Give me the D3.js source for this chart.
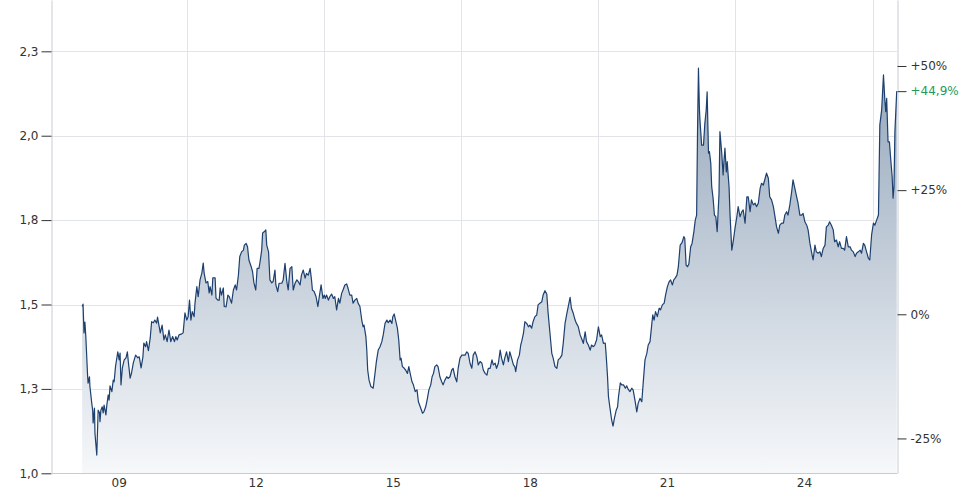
<!DOCTYPE html>
<html><head><meta charset="utf-8">
<script src="https://cdn.jsdelivr.net/npm/d3@7"></script>
<style>
html,body{margin:0;padding:0;background:#fff;}
svg{display:block;font-family:"DejaVu Sans",Verdana,sans-serif;}
</style></head>
<body><svg id="chart" width="980" height="500"></svg>
<script>
// years after 2000 (decimal)
const yearOffsets = [
8.20,8.22,8.24,8.26,8.28,8.32,8.33,8.36,8.37,8.41,8.43,8.44,8.47,8.48,8.52,8.55,8.58,8.59,8.61,8.64,8.66,8.68,8.72,8.74,8.77,8.79,8.81,8.85,8.88,8.90,8.93,8.98,
9.01,9.03,9.05,9.08,9.12,9.16,9.19,9.21,9.25,9.28,9.32,9.37,9.42,9.45,9.49,9.53,9.55,9.59,9.61,9.65,9.69,9.72,9.76,9.79,9.83,9.85,9.88,9.91,9.95,9.99,
10.02,10.06,10.10,10.14,10.18,10.22,10.25,10.28,10.32,10.38,10.41,10.45,
10.49,10.52,10.55,10.58,10.61,10.65,10.67,10.71,10.74,10.78,10.82,10.85,10.87,10.91,10.95,10.98,11.00,11.04,11.06,11.11,11.13,11.17,11.20,11.22,11.25,11.29,11.31,11.35,11.39,11.42,11.47,11.51,11.55,11.58,11.62,11.65,11.69,11.73,11.75,11.79,11.82,11.85,11.90,11.93,11.96,
12.00,12.03,12.07,12.09,12.13,12.15,12.19,12.22,12.24,12.28,12.31,12.35,12.38,12.42,12.44,12.48,12.51,12.57,12.60,12.64,12.68,12.71,12.75,12.79,12.82,12.86,12.90,12.93,12.97,
13.00,13.04,13.08,13.11,13.15,13.19,13.22,13.24,13.28,13.32,13.36,13.39,13.43,13.47,13.50,
13.52,13.55,13.59,13.62,13.66,13.70,13.73,13.77,13.81,13.84,13.88,13.91,13.95,13.99,14.02,14.06,14.10,14.13,14.17,14.21,14.24,14.28,14.32,14.35,14.37,14.41,14.43,14.45,14.48,14.52,14.57,14.61,14.64,14.68,14.72,14.76,14.79,14.83,14.87,14.90,14.94,14.98,
15.00,15.03,15.06,15.10,15.13,15.16,15.18,15.21,15.25,15.28,15.32,15.35,15.38,15.42,15.45,15.49,15.53,15.56,15.60,15.65,15.68,15.72,15.75,15.79,15.83,15.86,15.89,15.92,15.96,15.99,
16.03,16.07,16.10,16.14,16.18,16.21,16.25,16.29,16.32,16.36,16.40,16.43,16.47,
16.51,16.58,16.62,16.65,16.69,16.73,16.76,16.80,16.84,16.87,16.91,16.95,16.98,17.02,17.06,17.09,17.13,17.17,17.20,17.24,17.27,17.31,17.35,17.38,17.42,17.45,17.49,17.53,17.56,17.60,17.64,17.67,17.69,17.73,17.77,17.80,17.82,17.86,17.89,17.93,17.97,
18.00,18.04,18.07,18.11,18.15,18.18,18.22,18.26,18.29,18.33,18.37,18.40,18.44,18.48,18.51,18.55,18.59,18.62,18.66,18.70,18.73,18.77,18.81,18.84,18.88,18.91,18.95,18.99,
19.02,19.06,19.10,19.13,19.17,19.21,19.24,19.28,19.32,19.35,19.39,19.42,19.46,19.50,19.54,19.57,19.61,19.65,
19.67,19.70,19.72,19.75,19.79,19.82,19.85,19.89,19.92,19.94,19.98,20.01,20.05,20.09,20.12,20.15,20.19,20.23,20.26,20.30,20.34,20.37,20.41,20.45,20.48,20.52,20.56,20.59,20.63,20.67,20.69,20.72,20.75,20.79,20.83,20.86,20.90,20.94,20.97,
21.01,21.05,21.08,21.12,21.15,21.18,21.22,21.25,21.29,21.33,21.37,21.39,21.42,21.45,21.48,21.52,21.55,21.59,21.62,21.65,21.67,21.69,21.71,21.72,21.76,21.80,21.83,21.86,21.88,21.91,21.93,21.96,21.98,
22.01,22.04,22.07,22.10,22.14,22.16,22.20,22.23,22.25,22.27,22.30,22.32,22.34,22.36,22.38,22.42,22.45,22.49,22.53,22.56,22.60,22.64,22.67,22.71,
22.75,22.78,22.82,22.85,22.89,22.93,22.96,23.00,23.04,23.07,23.11,23.15,23.18,23.22,23.25,23.29,23.33,23.36,23.40,23.44,23.47,23.51,23.55,23.58,23.62,23.65,23.69,23.73,23.76,23.80,23.84,23.87,23.91,23.95,23.98,
24.02,24.06,24.09,24.13,24.17,24.20,24.24,24.27,24.31,24.35,24.38,24.42,24.46,24.49,24.53,24.56,24.60,24.64,24.67,24.71,24.75,24.78,24.82,24.86,24.89,24.93,24.97,
25.01,25.04,25.08,25.12,25.15,25.19,25.23,25.26,25.30,25.33,25.37,25.41,25.44,25.48,25.52,25.55,25.59,25.63,25.66,25.70,25.74,25.77,25.79,25.81,25.84,25.87,25.90,25.93,25.95,25.97,25.99,26.03
];
const prices = [
1.494,1.501,1.416,1.448,1.405,1.286,1.267,1.286,1.257,1.208,1.187,1.149,1.193,1.119,1.054,1.187,1.179,1.153,1.187,1.197,1.179,1.202,1.173,1.202,1.232,1.217,1.259,1.242,1.276,1.271,1.316,1.360,
1.336,1.356,1.262,1.312,1.336,1.342,1.360,1.331,1.282,1.297,1.327,1.350,1.342,1.345,1.312,1.345,1.386,1.375,1.390,1.363,1.401,1.449,1.446,1.454,1.445,1.463,1.439,1.416,1.439,1.395,
1.410,1.390,1.424,1.390,1.405,1.390,1.405,1.395,1.410,1.413,1.416,1.475,
1.454,1.464,1.513,1.454,1.479,1.464,1.504,1.553,1.523,1.573,1.593,1.623,1.593,1.564,1.568,1.534,1.553,1.528,1.579,1.579,1.519,1.513,1.513,1.549,1.528,1.549,1.494,1.493,1.528,1.523,1.504,1.543,1.558,1.543,1.587,1.642,1.656,1.661,1.676,1.681,1.671,1.632,1.612,1.597,1.564,
1.543,1.607,1.607,1.623,1.661,1.712,1.716,1.721,1.676,1.656,1.573,1.564,1.568,1.602,1.558,1.538,1.563,1.563,1.573,1.622,1.568,1.543,1.607,1.612,1.543,1.563,1.573,1.568,1.558,
1.587,1.602,1.578,1.592,1.587,1.607,1.573,1.543,1.538,1.523,1.494,1.523,1.558,1.518,1.528,
1.518,1.528,1.513,1.523,1.531,1.518,1.523,1.484,1.518,1.504,1.533,1.543,1.558,1.561,1.548,1.528,1.528,1.504,1.513,1.518,1.504,1.494,1.454,1.434,1.439,1.405,1.365,1.306,1.276,1.257,1.252,1.296,1.331,1.365,1.375,1.390,1.410,1.444,1.454,1.446,1.454,1.444,
1.464,1.472,1.454,1.430,1.395,1.336,1.341,1.316,1.311,1.306,1.296,1.316,1.296,1.271,1.262,1.242,1.247,1.212,1.197,1.178,1.182,1.197,1.217,1.247,1.262,1.286,1.296,1.316,1.321,1.316,
1.286,1.271,1.262,1.276,1.286,1.281,1.286,1.306,1.311,1.286,1.271,1.311,1.341,
1.350,1.350,1.360,1.355,1.326,1.311,1.350,1.360,1.345,1.321,1.331,1.326,1.306,1.296,1.291,1.311,1.311,1.336,1.321,1.326,1.311,1.326,1.365,1.341,1.321,1.341,1.360,1.331,1.360,1.341,1.321,1.316,1.301,1.336,1.350,1.380,1.390,1.415,1.449,1.444,1.434,
1.439,1.430,1.449,1.464,1.469,1.499,1.504,1.508,1.528,1.541,1.531,1.474,1.415,1.355,1.341,1.316,1.311,1.336,1.341,1.350,1.385,1.444,1.474,1.494,1.521,1.489,1.474,1.454,
1.444,1.434,1.410,1.400,1.385,1.419,1.390,1.380,1.365,1.380,1.375,1.380,1.395,1.434,1.405,1.410,1.385,1.386,
1.350,1.286,1.227,1.197,1.158,1.140,1.163,1.187,1.197,1.227,1.268,1.262,1.262,1.252,1.259,1.249,1.242,1.252,1.247,1.217,1.182,1.207,1.222,1.212,1.267,1.336,1.355,1.380,1.390,1.444,1.469,1.454,1.479,1.464,1.489,1.484,1.499,1.504,1.528,
1.553,1.568,1.573,1.558,1.573,1.578,1.587,1.612,1.676,1.683,1.701,1.696,1.617,1.612,1.620,1.671,1.681,1.716,1.750,1.765,2.017,2.200,2.086,2.052,1.972,1.972,2.037,2.076,2.130,1.948,1.953,1.918,1.849,
1.815,1.765,1.760,1.716,1.829,2.012,1.948,1.884,1.928,1.963,1.893,1.923,1.884,1.849,1.770,1.661,1.686,1.726,1.760,1.790,1.760,1.775,1.780,1.741,
1.819,1.819,1.775,1.810,1.795,1.800,1.790,1.800,1.844,1.859,1.854,1.874,1.889,1.874,1.819,1.810,1.790,1.765,1.730,1.711,1.735,1.741,1.741,1.765,1.775,1.765,1.795,1.834,1.869,1.844,1.819,1.800,1.765,1.765,1.770,
1.745,1.735,1.721,1.681,1.652,1.632,1.676,1.656,1.652,1.656,1.642,1.666,1.676,1.730,1.735,1.745,1.735,1.721,1.686,1.691,1.671,1.686,1.666,1.666,1.661,1.701,1.671,
1.671,1.661,1.656,1.642,1.652,1.656,1.661,1.652,1.681,1.676,1.656,1.637,1.632,1.706,1.741,1.735,1.750,1.765,2.032,2.076,2.180,2.106,2.071,2.111,1.982,1.982,1.928,1.879,1.815,1.849,2.012,2.132
];
const leftTickValues = [1.0, 1.25, 1.5, 1.75, 2.0, 2.25];
const leftTickLabels = ["1,0", "1,3", "1,5", "1,8", "2,0", "2,3"];
const xTickValues = [9, 12, 15, 18, 21, 24];
const xTickLabels = ["09", "12", "15", "18", "21", "24"];
const xGridValues = [10.5, 13.5, 16.5, 19.5, 22.5, 25.5];
const baseValue = 1.471;
const pctTickValues = [-25, 0, 25, 50];
const pctTickLabels = ["-25%", "0%", "+25%", "+50%"];

const data = yearOffsets.map((t, i) => ({t, v: prices[i]}));

const svg = d3.select("#chart");
const L = 51, R = 897, T = 0, B = 473.3;
const x = d3.scaleLinear().domain([7.518, 26.036]).range([L, R]);
const y = d3.scaleLinear().domain([1.0, 2.402]).range([B, T]);
const yPct = d3.scaleLinear().domain([(1.0/baseValue-1)*100, (2.402/baseValue-1)*100]).range([B, T]);

const defs = svg.append("defs");
const grad = defs.append("linearGradient").attr("id","fillGrad")
  .attr("gradientUnits","userSpaceOnUse").attr("x1",0).attr("x2",0).attr("y1",60).attr("y2",B);
grad.append("stop").attr("offset","0").attr("stop-color","#94a6bb");
grad.append("stop").attr("offset","1").attr("stop-color","#f6f8fa");

const gridColor = "#e1e4e9";
// horizontal grid
svg.append("g").selectAll("line").data(leftTickValues).join("line")
  .attr("x1", L).attr("x2", R).attr("y1", d => Math.round(y(d)) + 0.5).attr("y2", d => Math.round(y(d)) + 0.5)
  .attr("stroke", gridColor).attr("stroke-width", 1);
// vertical grid
svg.append("g").selectAll("line").data(xGridValues).join("line")
  .attr("x1", d => Math.round(x(d)) + 0.5).attr("x2", d => Math.round(x(d)) + 0.5).attr("y1", T).attr("y2", B)
  .attr("stroke", gridColor).attr("stroke-width", 1);

// area
const area = d3.area().x(d => x(d.t)).y0(B).y1(d => y(d.v));
svg.append("path").datum(data).attr("d", area).attr("fill", "url(#fillGrad)");
const line = d3.line().x(d => x(d.t)).y(d => y(d.v));
svg.append("path").datum(data).attr("d", line).attr("fill", "none")
  .attr("stroke", "#1d406e").attr("stroke-width", 1.2).attr("stroke-linejoin", "round");

const textColor = "#333";
// left axis
const gL = svg.append("g").attr("transform", `translate(${L+0.5},0)`)
  .call(d3.axisLeft(y).tickValues(leftTickValues).tickFormat((d, i) => leftTickLabels[i]).tickSize(10).tickSizeOuter(0).tickPadding(3));
// bottom axis
const gB = svg.append("g").attr("transform", `translate(0,${Math.round(B)+0.5})`)
  .call(d3.axisBottom(x).tickValues(xTickValues).tickFormat((d, i) => xTickLabels[i]).tickSize(0).tickSizeOuter(0).tickPadding(4.5));
// right axis
const gR = svg.append("g").attr("transform", `translate(${R+0.5},0)`)
  .call(d3.axisRight(yPct).tickValues(pctTickValues).tickFormat((d, i) => pctTickLabels[i]).tickSize(9).tickSizeOuter(0).tickPadding(4));

[gL, gB, gR].forEach(g => {
  g.attr("font-family", "'DejaVu Sans', Verdana, sans-serif").attr("font-size", 12);
  g.select(".domain").attr("stroke", "#c8ccd2");
  g.selectAll(".tick line").attr("stroke", "#333");
  g.selectAll(".tick text").attr("fill", textColor);
});
gB.select(".domain").attr("d", `M${L},0H${R}`);

// last value marker on right axis
const lastV = prices[prices.length - 1];
const lastPct = (lastV / baseValue - 1) * 100;
const lastLabel = (lastPct >= 0 ? "+" : "") + lastPct.toFixed(1).replace(".", ",") + "%";
const yLast = yPct(lastPct);
const gLast = svg.append("g").attr("transform", `translate(${R+0.5},${yLast})`);
gLast.append("line").attr("x1", 0).attr("x2", 9).attr("y1", 0.5).attr("y2", 0.5).attr("stroke", "#333");
gLast.append("text").attr("x", 13).attr("dy", "0.32em").attr("font-size", 12)
  .attr("font-family", "'DejaVu Sans', Verdana, sans-serif").attr("fill", "#1e9a5c").text(lastLabel);
</script></body></html>
